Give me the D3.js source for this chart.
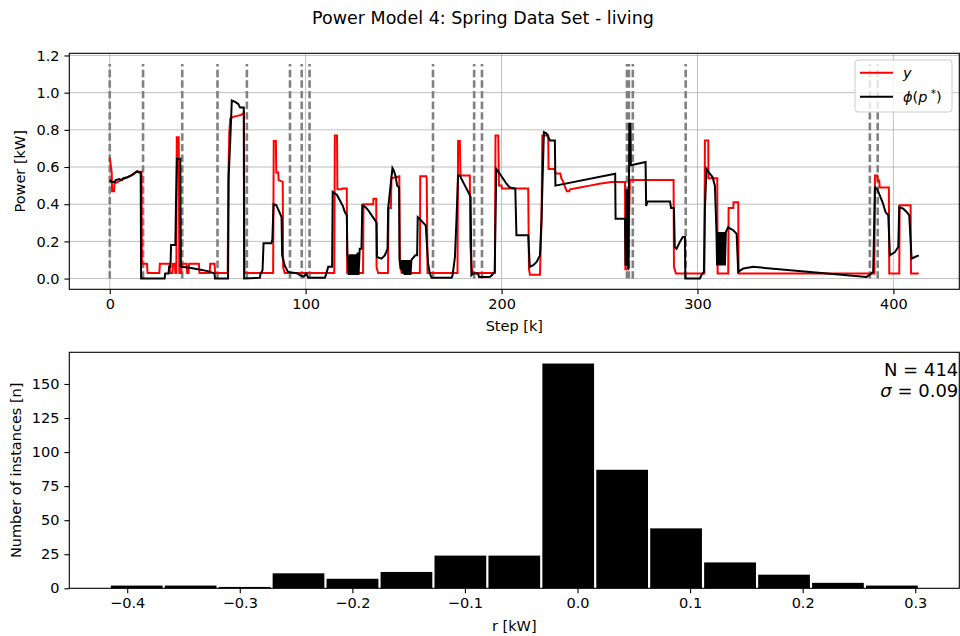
<!DOCTYPE html>
<html><head><meta charset="utf-8">
<script src="https://cdn.jsdelivr.net/npm/d3@7"></script>
<style>
body{margin:0;background:#fff;}
svg text{font-family:"DejaVu Sans",sans-serif;fill:#000;}
</style></head>
<body><svg id="c" width="960" height="636"></svg>
<script>
// ---------- DATA ----------
const title = "Power Model 4: Spring Data Set - living";
// measured y (red) as [step, kW]
const yPoints = [[0,0.65],[1,0.57],[1.2,0.47],[2.2,0.47],[2.4,0.51],[4,0.52],[6,0.53],[8,0.54],[10,0.55],[12,0.56],[13.6,0.575],[16.2,0.575],[16.4,0.08],[19,0.08],[19.3,0.03],[25.3,0.03],[25.6,0.08],[30.5,0.08],[30.8,0.03],[32,0.03],[32.3,0.08],[33.2,0.08],[33.5,0.03],[34,0.03],[34.2,0.76],[35.2,0.76],[35.5,0.03],[36.5,0.03],[36.8,0.08],[39.2,0.08],[39.5,0.03],[40.2,0.03],[40.5,0.08],[45.5,0.08],[45.8,0.03],[51,0.03],[51.3,0.08],[53.5,0.08],[53.8,0.03],[60.2,0.03],[60.5,0.52],[61,0.78],[61.5,0.86],[63,0.87],[65,0.875],[67,0.88],[68.5,0.89],[68.8,0.03],[83.4,0.03],[83.7,0.74],[84.8,0.74],[85,0.57],[86,0.57],[86.2,0.53],[88.3,0.52],[88.5,0.06],[89.3,0.03],[114.6,0.03],[114.9,0.77],[116,0.77],[116.2,0.48],[118.5,0.48],[118.7,0.485],[121,0.485],[121.2,0.03],[129.3,0.03],[129.5,0.40],[134.5,0.40],[134.6,0.43],[136,0.43],[136.2,0.06],[137,0.03],[142,0.03],[142.3,0.38],[143.5,0.38],[143.8,0.54],[147.8,0.55],[148.1,0.09],[149,0.03],[158.3,0.03],[158.5,0.55],[161.5,0.55],[161.8,0.54],[162.2,0.03],[177.5,0.03],[177.8,0.74],[178.7,0.74],[179,0.555],[183.8,0.555],[184,0.2],[184.7,0.06],[185.5,0.03],[196.6,0.03],[196.9,0.77],[198.3,0.77],[198.7,0.5],[200,0.5],[200.2,0.485],[213.6,0.485],[214,0.05],[214.5,0.02],[219.6,0.02],[220.4,0.32],[220.8,0.77],[223.8,0.77],[224,0.59],[227.2,0.59],[227.5,0.565],[230,0.565],[230.5,0.54],[231.5,0.52],[232.5,0.49],[233.3,0.47],[234.5,0.47],[235,0.48],[240,0.49],[245,0.50],[250,0.51],[256,0.52],[263,0.52],[263.2,0.05],[264.6,0.05],[265,0.3],[265.5,0.53],[287.8,0.53],[288,0.063],[289,0.027],[303.5,0.027],[303.8,0.743],[305.5,0.743],[305.6,0.54],[310.1,0.54],[310.3,0.027],[315.7,0.027],[315.9,0.38],[318.3,0.38],[318.4,0.41],[320.8,0.41],[321,0.027],[390.3,0.027],[390.6,0.555],[391.8,0.555],[392,0.528],[392.8,0.528],[393,0.49],[397.7,0.49],[397.9,0.027],[403,0.027],[403.2,0.394],[408.8,0.394],[409,0.027],[413,0.027]];
// model phi(p*) (black) as [step, kW]
const phiPoints = [[0,0.53],[1,0.52],[2.5,0.52],[3,0.53],[5,0.535],[6,0.53],[7,0.54],[9,0.545],[11,0.555],[13,0.57],[14,0.577],[15,0.57],[15.8,0.57],[16,0.0],[28,0.0],[28.3,0.027],[30,0.027],[30.3,0.063],[31,0.063],[31.3,0.18],[33.5,0.18],[33.8,0.40],[34.3,0.645],[36,0.645],[36.3,0.063],[40,0.06],[45,0.05],[50,0.04],[53.5,0.027],[53.7,0.0],[60.4,0.0],[60.7,0.546],[61.5,0.74],[62.3,0.958],[64,0.95],[65.5,0.94],[66.5,0.92],[68.4,0.92],[68.6,0.0],[76.6,0.004],[77,0.027],[78,0.045],[78.5,0.19],[82.5,0.19],[83,0.21],[83.6,0.40],[85,0.395],[86.5,0.36],[87.7,0.33],[88,0.125],[89.3,0.07],[91,0.036],[96,0.027],[97,0.018],[99,0.01],[100.3,0.027],[101.3,0.004],[109.8,0.004],[110.3,0.018],[111.5,0.063],[113.5,0.063],[113.8,0.466],[116,0.45],[117.5,0.42],[119,0.39],[120,0.358],[121,0.34],[121.3,0.134],[122,0.02],[122.5,0.13],[123,0.02],[123.5,0.13],[124,0.02],[124.5,0.13],[125,0.02],[125.5,0.13],[126,0.02],[126.5,0.14],[127,0.02],[127.6,0.16],[128.5,0.16],[128.9,0.394],[130.5,0.385],[132,0.367],[133.7,0.34],[135,0.32],[136.2,0.30],[136.4,0.116],[138.7,0.107],[140.4,0.125],[141.8,0.16],[142.1,0.376],[143,0.466],[144.3,0.594],[145,0.58],[146,0.546],[146.7,0.50],[147.7,0.49],[147.9,0.107],[148.5,0.05],[149,0.10],[149.5,0.03],[150,0.10],[150.5,0.02],[151,0.10],[151.5,0.02],[152,0.10],[152.5,0.02],[153,0.10],[153.5,0.02],[154,0.10],[154.5,0.107],[156,0.125],[156.9,0.125],[157.2,0.33],[158.3,0.32],[160,0.30],[161.3,0.286],[162.5,0.08],[163.4,0.027],[164.3,0.004],[174.5,0.004],[175,0.018],[176.2,0.116],[177,0.322],[177.8,0.555],[178.7,0.555],[179.5,0.537],[181.3,0.5],[183,0.466],[184.2,0.439],[184.6,0.018],[185.5,0.027],[188,0.027],[188.5,0.009],[194,0.009],[195,0.018],[196.5,0.036],[197.3,0.59],[199.1,0.564],[200.8,0.537],[202.5,0.51],[204.2,0.49],[207,0.484],[207.6,0.233],[213.6,0.233],[214.4,0.063],[216.2,0.072],[217.9,0.09],[219.6,0.125],[220.4,0.322],[221.6,0.788],[223,0.78],[224.7,0.743],[227.2,0.743],[227.5,0.50],[258,0.564],[258.2,0.322],[263,0.322],[263.3,0.07],[263.7,0.48],[264,0.07],[264.4,0.48],[264.8,0.05],[265.2,0.833],[265.8,0.833],[266,0.61],[273.5,0.627],[273.8,0.39],[274.5,0.415],[286,0.415],[286.5,0.38],[288,0.38],[288.4,0.17],[289.3,0.16],[291,0.197],[292.5,0.224],[293.6,0.224],[293.8,0.0],[301.2,0.0],[302,0.018],[303.3,0.036],[303.8,0.376],[304.6,0.59],[306.3,0.564],[307.7,0.546],[308.9,0.50],[309.7,0.25],[310,0.07],[310.5,0.25],[311,0.07],[311.5,0.25],[312,0.07],[312.5,0.25],[313,0.07],[313.5,0.25],[314,0.07],[314.5,0.25],[315.7,0.277],[316.5,0.27],[318.3,0.26],[320,0.24],[320.8,0.036],[323.4,0.054],[328.5,0.063],[386.3,0.009],[387.7,0.018],[389.7,0.036],[390.6,0.49],[391.8,0.48],[393.1,0.446],[394.5,0.41],[396,0.358],[397.4,0.34],[398.2,0.125],[400.8,0.143],[402.5,0.17],[403,0.385],[405,0.376],[406.8,0.358],[408.1,0.34],[409.3,0.107],[411,0.116],[413,0.125]];
// change points (dashed vertical lines)
const changeSteps = [0,17,37,55,70,92,98,102,165,186,190,264,265,267,294,388,392];
const changeTop = 1.154;
const stepRange = [0, 413];
const xTicksTop = [0,100,200,300,400];
const yTicksTop = [0.0,0.2,0.4,0.6,0.8,1.0,1.2];
// histogram of residuals
const binEdges = [-0.4155,-0.3676,-0.3197,-0.2718,-0.2239,-0.1759,-0.1280,-0.0801,-0.0322,0.0157,0.0636,0.1115,0.1595,0.2074,0.2553,0.3032];
const binCounts = [2,2,1,11,7,12,24,24,165,87,44,19,10,4,2];
const histXTicks = [-0.4,-0.3,-0.2,-0.1,0.0,0.1,0.2,0.3];
const histYTicks = [0,25,50,75,100,125,150];
const statN = 414, statSigma = 0.09;

// ---------- LAYOUT ----------
const svg = d3.select("#c");
const L = 69.3, R = 959.3;
const top1 = 53.3, bot1 = 289.3, top2 = 352.3, bot2 = 588.3;
const tickFont = 14.5, labelFont = 14.5;

svg.append("text").attr("x", 483).attr("y", 24).attr("text-anchor","middle")
  .style("font-size","17.5px").text(title);

// ---------- TOP CHART ----------
const pad = (a,b)=>{const r=b-a;return [a-0.05*r,b+0.05*r];};
const x1 = d3.scaleLinear().domain(pad(stepRange[0], stepRange[1])).range([L,R]);
const y1 = d3.scaleLinear().domain(pad(0, changeTop)).range([bot1, top1]);

const g1 = svg.append("g");
g1.selectAll(".gx").data(xTicksTop).join("line")
  .attr("x1",d=>x1(d)).attr("x2",d=>x1(d)).attr("y1",top1).attr("y2",bot1)
  .attr("stroke","#b0b0b0").attr("stroke-width",0.8);
g1.selectAll(".gy").data(yTicksTop).join("line")
  .attr("x1",L).attr("x2",R).attr("y1",d=>y1(d)).attr("y2",d=>y1(d))
  .attr("stroke","#b0b0b0").attr("stroke-width",0.8);

svg.append("clipPath").attr("id","clip1").append("rect")
  .attr("x",L).attr("y",top1).attr("width",R-L).attr("height",bot1-top1);
const plot1 = g1.append("g").attr("clip-path","url(#clip1)");

plot1.selectAll(".vl").data(changeSteps).join("line")
  .attr("x1",d=>x1(d)).attr("x2",d=>x1(d)).attr("y1",y1(0)).attr("y2",y1(changeTop))
  .attr("stroke","#808080").attr("stroke-width",2.6).attr("stroke-dasharray","7.4,3.2");

const line1 = d3.line().x(d=>x1(d[0])).y(d=>y1(d[1]));
plot1.append("path").datum(yPoints).attr("d",line1).attr("fill","none")
  .attr("stroke","#ff0000").attr("stroke-width",2).attr("stroke-linejoin","miter");
plot1.append("path").datum(phiPoints).attr("d",line1).attr("fill","none")
  .attr("stroke","#000").attr("stroke-width",2).attr("stroke-linejoin","miter");

const ax1 = g1.append("g").attr("transform",`translate(0,${bot1})`)
  .call(d3.axisBottom(x1).tickValues(xTicksTop).tickFormat(d3.format("d")).tickSize(4.9).tickPadding(4.9));
const ay1 = g1.append("g").attr("transform",`translate(${L},0)`)
  .call(d3.axisLeft(y1).tickValues(yTicksTop).tickFormat(d3.format(".1f")).tickSize(4.9).tickPadding(4.9));
[ax1,ay1].forEach(a=>{a.select(".domain").remove();a.selectAll("text").style("font-size",tickFont+"px").style("font-family","DejaVu Sans");a.selectAll("line").attr("stroke-width",1.1);});
g1.append("rect").attr("x",L).attr("y",top1).attr("width",R-L).attr("height",bot1-top1)
  .attr("fill","none").attr("stroke","#000").attr("stroke-width",1.1);

svg.append("text").attr("x",(L+R)/2).attr("y",331).attr("text-anchor","middle")
  .style("font-size",labelFont+"px").text("Step [k]");
svg.append("text").attr("transform",`translate(25,${(top1+bot1)/2}) rotate(-90)`).attr("text-anchor","middle")
  .style("font-size",labelFont+"px").text("Power [kW]");

// legend
const lg = svg.append("g");
lg.append("rect").attr("x",855).attr("y",60).attr("width",97).attr("height",52).attr("rx",3)
  .attr("fill","#fff").attr("fill-opacity",0.8).attr("stroke","#cccccc").attr("stroke-width",1);
lg.append("line").attr("x1",860).attr("x2",893).attr("y1",72.7).attr("y2",72.7).attr("stroke","#ff0000").attr("stroke-width",2);
lg.append("line").attr("x1",860).attr("x2",893).attr("y1",96.7).attr("y2",96.7).attr("stroke","#000").attr("stroke-width",2);
lg.append("text").attr("x",903).attr("y",77.5).style("font-size","14.5px").style("font-style","italic").text("y");
const t2 = lg.append("text").attr("x",903).attr("y",101.5).style("font-size","14.5px");
t2.append("tspan").style("font-style","italic").text("ϕ");
t2.append("tspan").text("(");
t2.append("tspan").style("font-style","italic").text("p");
t2.append("tspan").attr("dy",-5).style("font-size","10.5px").text(" *");
t2.append("tspan").attr("dy",5).text(")");

// ---------- HISTOGRAM ----------
const x2 = d3.scaleLinear().domain(pad(binEdges[0], binEdges[binEdges.length-1])).range([L,R]);
const y2 = d3.scaleLinear().domain([0, d3.max(binCounts)*1.05]).range([bot2, top2]);
const g2 = svg.append("g");
const bins = binCounts.map((c,i)=>({x0:binEdges[i],x1:binEdges[i+1],c}));
g2.selectAll(".bar").data(bins).join("rect")
  .attr("x",d=>x2(d.x0)+1.1).attr("width",d=>x2(d.x1)-x2(d.x0)-2.2)
  .attr("y",d=>y2(d.c)).attr("height",d=>y2(0)-y2(d.c)).attr("fill","#000");
const ax2 = g2.append("g").attr("transform",`translate(0,${bot2})`)
  .call(d3.axisBottom(x2).tickValues(histXTicks).tickFormat(d3.format(".1f")).tickSize(4.9).tickPadding(4.9));
const ay2 = g2.append("g").attr("transform",`translate(${L},0)`)
  .call(d3.axisLeft(y2).tickValues(histYTicks).tickFormat(d3.format("d")).tickSize(4.9).tickPadding(4.9));
[ax2,ay2].forEach(a=>{a.select(".domain").remove();a.selectAll("text").style("font-size",tickFont+"px").style("font-family","DejaVu Sans");a.selectAll("line").attr("stroke-width",1.1);});
g2.append("rect").attr("x",L).attr("y",top2).attr("width",R-L).attr("height",bot2-top2)
  .attr("fill","none").attr("stroke","#000").attr("stroke-width",1.1);
svg.append("text").attr("x",(L+R)/2).attr("y",631).attr("text-anchor","middle")
  .style("font-size",labelFont+"px").text("r [kW]");
svg.append("text").attr("transform",`translate(21,${(top2+bot2)/2}) rotate(-90)`).attr("text-anchor","middle")
  .style("font-size",labelFont+"px").text("Number of instances [n]");
svg.append("text").attr("x",R-1).attr("y",376).attr("text-anchor","end").style("font-size","18px")
  .text("N = " + statN);
const st = svg.append("text").attr("x",R-1).attr("y",397).attr("text-anchor","end").style("font-size","18px");
st.append("tspan").style("font-style","italic").text("σ");
st.append("tspan").text(" = " + statSigma.toFixed(2));
</script></body></html>
